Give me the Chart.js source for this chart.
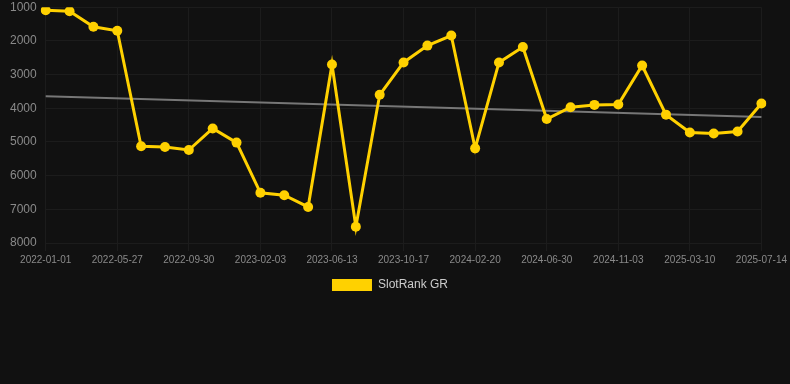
<!DOCTYPE html>
<html>
<head>
<meta charset="utf-8">
<script src="https://cdn.jsdelivr.net/npm/chart.js@4/dist/chart.umd.min.js"></script>
<style>
    html, body { margin: 0; padding: 0; background: #111111; }
    #wrap { width: 790px; height: 384px; position: relative; }
</style>
</head>
<body>
<div id="wrap"><canvas id="myChart"></canvas></div>
<script>
// category labels (only every 3rd one is shown on the axis)
const dates = [
    '2022-01-01', '2022-02-18', '2022-04-08', '2022-05-27', '2022-07-08', '2022-08-19',
    '2022-09-30', '2022-11-11', '2022-12-23', '2023-02-03', '2023-03-18', '2023-04-30',
    '2023-06-13', '2023-07-26', '2023-09-05', '2023-10-17', '2023-11-28', '2024-01-09',
    '2024-02-20', '2024-04-03', '2024-05-17', '2024-06-30', '2024-08-10', '2024-09-22',
    '2024-11-03', '2024-12-15', '2025-01-27', '2025-03-10', '2025-04-22', '2025-06-02',
    '2025-07-14'
];
const ranks = [
    1090, 1120, 1580, 1700, 5130, 5150, 5240, 4600, 5020, 6510, 6580, 6930,
    2700, 7520, 3600, 2640, 2140, 1840, 5190, 2640, 2180, 4320, 3970, 3900,
    3890, 2730, 4190, 4720, 4750, 4690, 3860
];
const trendStart = 3640;
const trendEnd = 4260;
const yTicks = [1000, 2000, 3000, 4000, 5000, 6000, 7000, 8000];

const trend = dates.map((d, i) => i == 0 ? trendStart : (i == dates.length - 1 ? trendEnd : null));

const ctx = document.getElementById('myChart').getContext('2d');
const chart = new Chart(ctx, {
    type: 'line',
    data: {
        labels: dates,
        datasets: [{
            label: 'SlotRank GR',
            data: ranks,
            borderColor: '#FFD100',
            backgroundColor: '#FFD100',
            borderWidth: 3,
            pointRadius: 5,
            pointBackgroundColor: '#FFD100',
            pointBorderWidth: 0,
            tension: 0
        }, {
            label: 'trend',
            data: trend,
            borderColor: '#777777',
            borderWidth: 2,
            pointRadius: 0,
            spanGaps: true,
            tension: 0
        }]
    },
    options: {
        responsive: true,
        maintainAspectRatio: false,
        animation: false,
        layout: { autoPadding: false, padding: { top: 0, left: 10, right: 20, bottom: 83 } },
        scales: {
            y: {
                reverse: true,
                min: 1000,
                max: 8000,
                afterBuildTicks: axis => { axis.ticks = yTicks.map(v => ({ value: v })); },
                grid: { color: '#1c1c1c', drawTicks: true, tickLength: 9, tickColor: 'rgba(0,0,0,0)' },
                border: { display: false },
                ticks: {
                    color: '#8a8a8a',
                    font: { family: 'Arial, Liberation Sans', size: 12 },
                    padding: 0,
                    callback: value => String(value)
                }
            },
            x: {
                grid: { color: '#1c1c1c' },
                border: { display: false },
                ticks: {
                    color: '#8a8a8a',
                    font: { family: 'Arial, Liberation Sans', size: 10 },
                    autoSkip: false,
                    maxRotation: 0,
                    callback: function (value, index) {
                        return index % 3 == 0 ? dates[index] : null;
                    }
                }
            }
        },
        plugins: {
            legend: {
                position: 'bottom',
                labels: {
                    color: '#cccccc',
                    font: { family: 'Arial, Liberation Sans', size: 12 },
                    boxWidth: 40,
                    boxHeight: 12,
                    filter: item => item.datasetIndex == 0,
                    generateLabels: function (chart) {
                        const items = Chart.defaults.plugins.legend.labels.generateLabels(chart);
                        items.forEach(it => { it.lineWidth = 0; });
                        return items;
                    }
                }
            },
            tooltip: { enabled: false }
        }
    }
});
</script>
</body>
</html>
